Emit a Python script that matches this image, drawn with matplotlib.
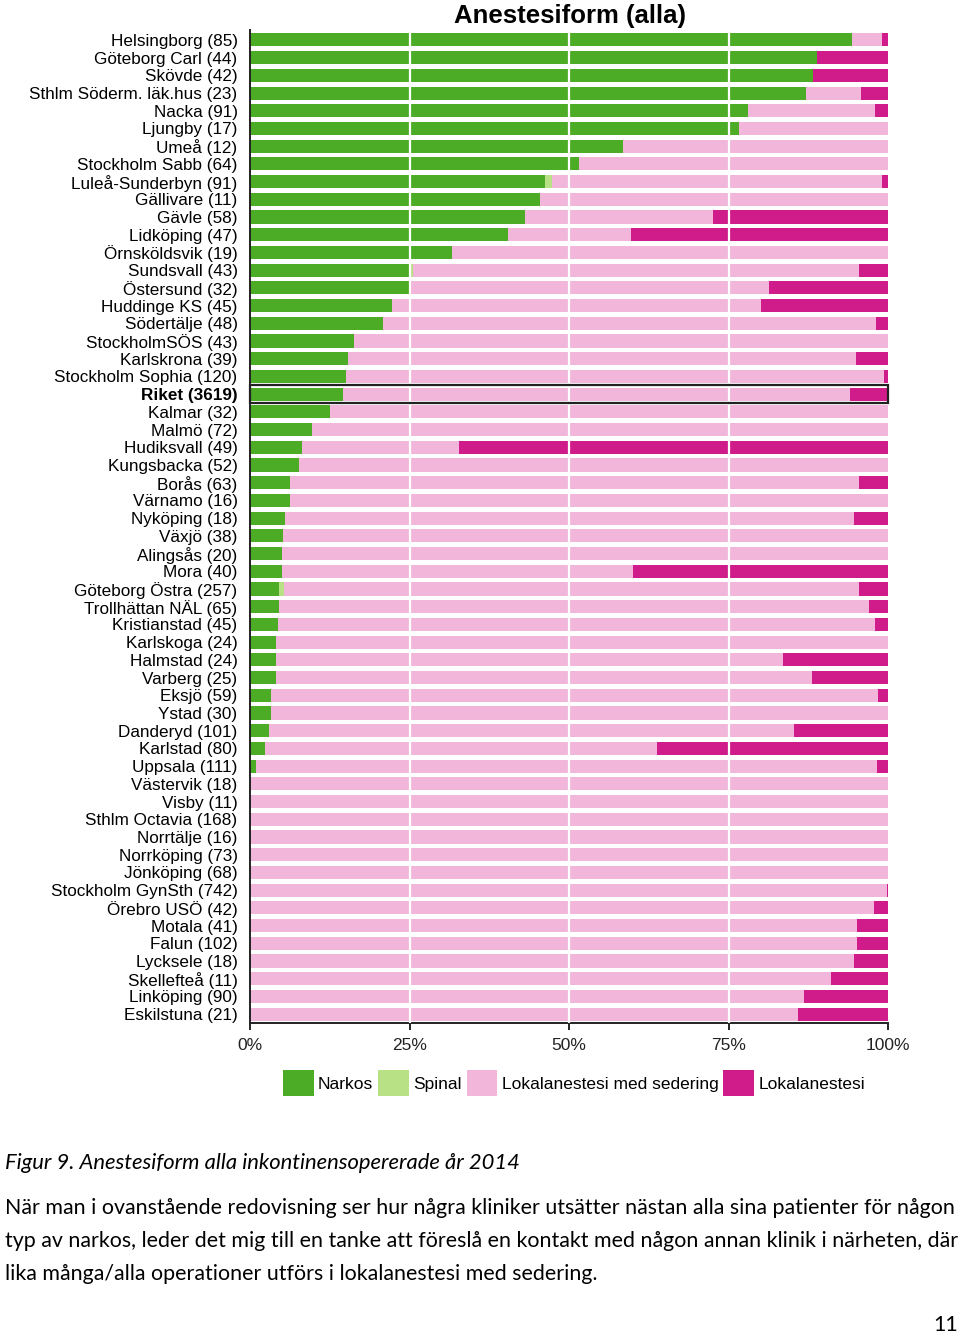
import matplotlib
matplotlib.use("Agg")
import matplotlib.pyplot as plt
from matplotlib.patches import Patch, Rectangle
import numpy as np

# clinics, top to bottom
clinics = [
    "Helsingborg (85)", "Göteborg Carl (44)", "Skövde (42)", "Sthlm Söderm. läk.hus (23)",
    "Nacka (91)", "Ljungby (17)", "Umeå (12)", "Stockholm Sabb (64)", "Luleå-Sunderbyn (91)",
    "Gällivare (11)", "Gävle (58)", "Lidköping (47)", "Örnsköldsvik (19)", "Sundsvall (43)",
    "Östersund (32)", "Huddinge KS (45)", "Södertälje (48)", "StockholmSÖS (43)",
    "Karlskrona (39)", "Stockholm Sophia (120)", "Riket (3619)", "Kalmar (32)", "Malmö (72)",
    "Hudiksvall (49)", "Kungsbacka (52)", "Borås (63)", "Värnamo (16)", "Nyköping (18)",
    "Växjö (38)", "Alingsås (20)", "Mora (40)", "Göteborg Östra (257)", "Trollhättan NÄL (65)",
    "Kristianstad (45)", "Karlskoga (24)", "Halmstad (24)", "Varberg (25)", "Eksjö (59)",
    "Ystad (30)", "Danderyd (101)", "Karlstad (80)", "Uppsala (111)", "Västervik (18)",
    "Visby (11)", "Sthlm Octavia (168)", "Norrtälje (16)", "Norrköping (73)", "Jönköping (68)",
    "Stockholm GynSth (742)", "Örebro USÖ (42)", "Motala (41)", "Falun (102)",
    "Lycksele (18)", "Skellefteå (11)", "Linköping (90)", "Eskilstuna (21)",
]

# percent per category (lokalanestesi = rest up to 100)
narkos = [
    94.3, 88.8, 88.3, 87.1, 78.1, 76.6, 58.4, 51.6, 46.2, 45.5,
    43.1, 40.5, 31.7, 25.3, 24.9, 22.2, 20.9, 16.3, 15.4, 15.0,
    14.6, 12.5, 9.7, 8.1, 7.7, 6.3, 6.2, 5.5, 5.2, 5.0,
    5.0, 4.6, 4.6, 4.4, 4.1, 4.1, 4.0, 3.3, 3.3, 3.0,
    2.4, 0.9, 0, 0, 0, 0, 0, 0, 0, 0,
    0, 0, 0, 0, 0, 0,
]
spinal = [0.0] * len(clinics)
spinal[8] = 1.1   # Luleå-Sunderbyn
spinal[13] = 0.3  # Sundsvall
spinal[31] = 0.7  # Göteborg Östra
lok_sed = [
    4.7, 0, 0, 8.7, 19.9, 23.4, 41.6, 48.4, 51.7, 54.5,
    29.4, 19.2, 68.3, 69.9, 56.5, 57.9, 77.2, 83.7, 79.6, 84.3,
    79.5, 87.5, 90.3, 24.6, 92.3, 89.1, 93.8, 89.1, 94.8, 95.0,
    55.1, 90.2, 92.5, 93.6, 95.9, 79.4, 84.1, 95.2, 96.7, 82.3,
    61.4, 97.4, 100, 100, 100, 100, 100, 100, 99.9, 97.8,
    95.2, 95.2, 94.7, 91.1, 86.8, 85.9,
]
lokal = [100 - a - b - c for a, b, c in zip(narkos, spinal, lok_sed)]

series = ["Narkos", "Spinal", "Lokalanestesi med sedering", "Lokalanestesi"]
colors = ["#4dac26", "#b8e186", "#f1b6da", "#d01c8b"]

label_font = ["Liberation Sans", "DejaVu Sans"]

fig = plt.figure(figsize=(9.6, 13.36), dpi=100)
ax = fig.add_axes([250 / 960, 1 - 1023 / 1336, 638 / 960, 993 / 1336])

y = np.arange(len(clinics))
left = np.zeros(len(clinics))
for vals, col in zip([narkos, spinal, lok_sed, lokal], colors):
    vals = np.array(vals)
    ax.barh(y, vals, left=left, height=0.74, color=col, linewidth=0, zorder=2)
    left += vals

# white gridlines across the bars
for gx in [25, 50, 75]:
    ax.axvline(gx, color="white", lw=1.6, zorder=3)

# box around the national total
ri = clinics.index("Riket (3619)")
ax.add_patch(Rectangle((0, ri - 0.5), 100, 1.0, fill=False, ec="#222222", lw=1.6, zorder=4, clip_on=False))

ax.set_xlim(0, 100)
ax.set_ylim(55.5, -0.56)
ax.set_yticks(y)
ax.set_yticklabels(clinics, family=label_font, fontsize=12.3)
for t in ax.get_yticklabels():
    if t.get_text().startswith("Riket"):
        t.set_fontweight("bold")
ax.tick_params(axis="y", length=0, pad=9)
ax.set_xticks([0, 25, 50, 75, 100])
ax.set_xticklabels(["0%", "25%", "50%", "75%", "100%"], family=label_font, fontsize=12.5, color="#222222")
ax.tick_params(axis="x", length=5, width=1.2, pad=6)
for s in ["top", "right"]:
    ax.spines[s].set_visible(False)
for s in ["left", "bottom"]:
    ax.spines[s].set_linewidth(1.4)
    ax.spines[s].set_color("#222222")

fig.text(570 / 960, 1 - 16 / 1336, "Anestesiform (alla)", ha="center", va="center",
         family=label_font, fontsize=18.5, fontweight="bold")

handles = [Patch(facecolor=c, edgecolor="none") for c in colors]
leg = fig.legend(handles, series, loc="center", bbox_to_anchor=(574 / 960, 1 - 1083 / 1336), ncol=4,
                 frameon=False, handlelength=1.75, handleheight=1.9, handletextpad=0.25,
                 columnspacing=0.3, prop={"family": label_font, "size": 12.5})

body_font = ["Lato", "DejaVu Sans"]
fig.text(5 / 960, 1 - 1163 / 1336, "Figur 9. Anestesiform alla inkontinensopererade år 2014",
         ha="left", va="center", family=body_font, style="italic", fontsize=15.8)
lines = [
    "När man i ovanstående redovisning ser hur några kliniker utsätter nästan alla sina patienter för någon",
    "typ av narkos, leder det mig till en tanke att föreslå en kontakt med någon annan klinik i närheten, där",
    "lika många/alla operationer utförs i lokalanestesi med sedering.",
]
for i, line in enumerate(lines):
    fig.text(5 / 960, 1 - (1208 + i * 33) / 1336, line, ha="left", va="center",
             family=body_font, fontsize=15.4)
fig.text(958 / 960, 1 - 1325 / 1336, "11", ha="right", va="center", family=body_font, fontsize=15.4)

fig.savefig("out.png", dpi=100)
